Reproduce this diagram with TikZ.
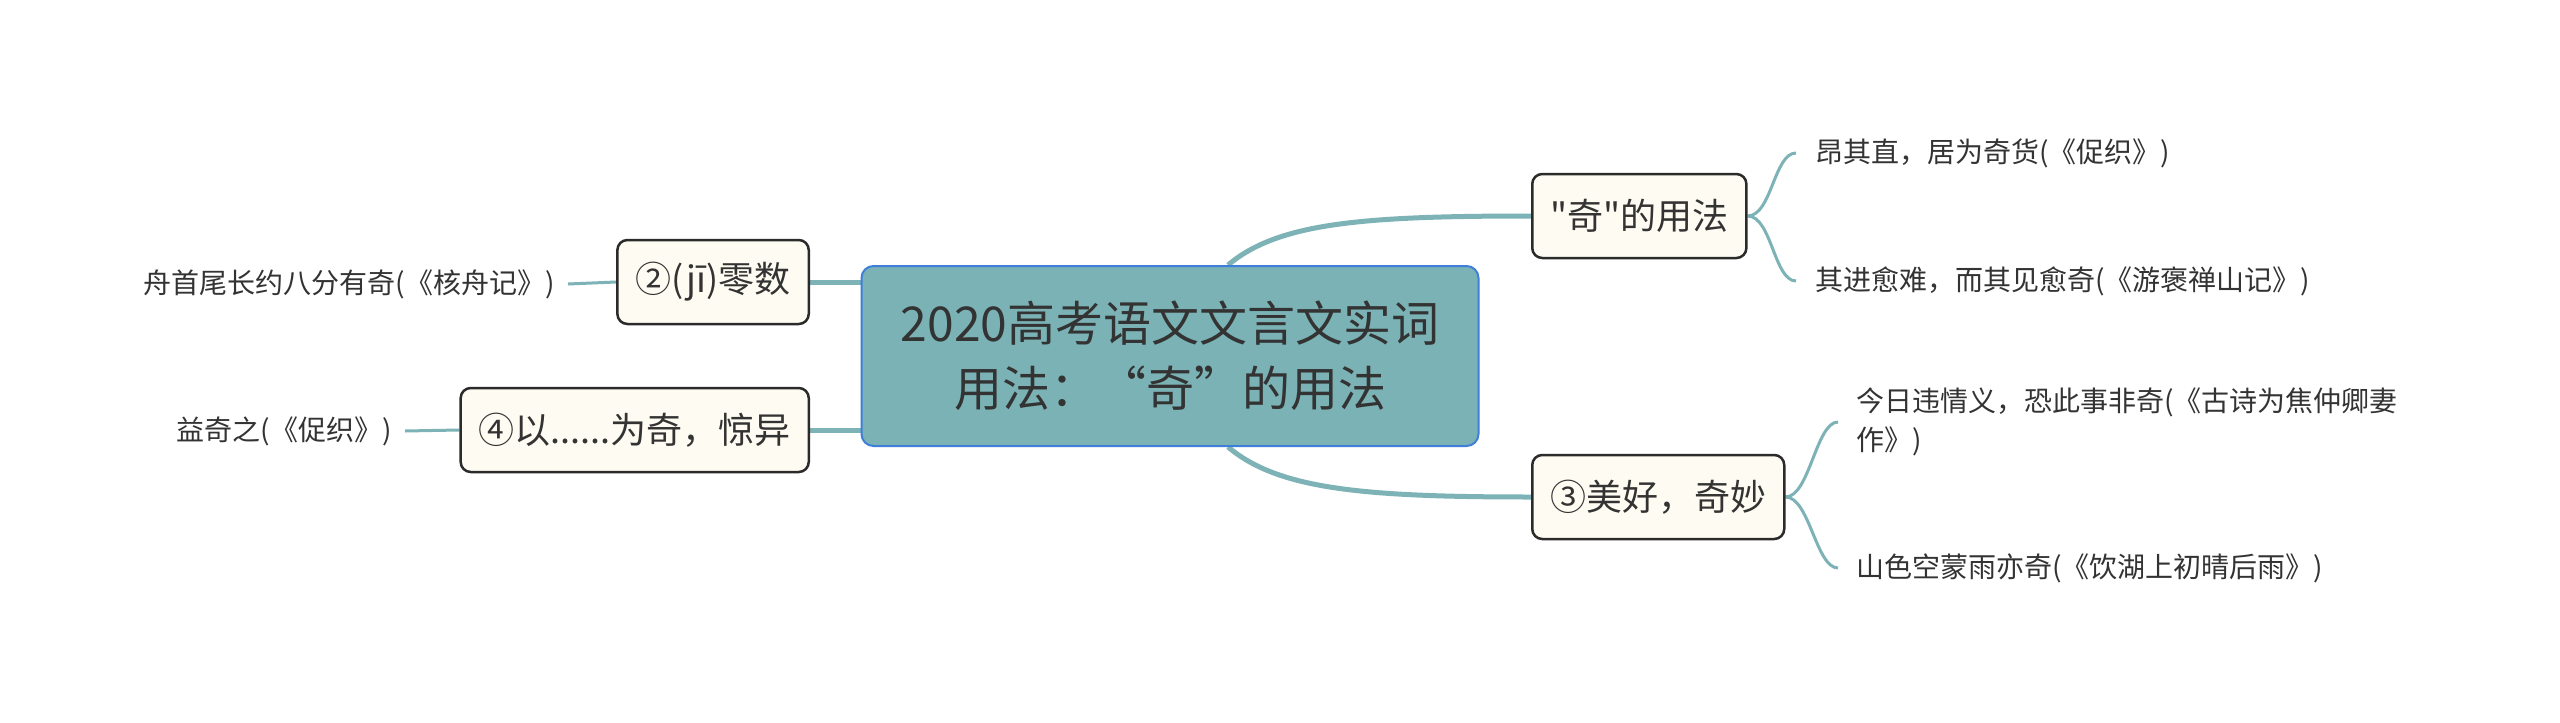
\documentclass[tikz,border=0pt]{standalone}
\usepackage{fontspec}
\setmainfont{Noto Sans CJK SC}[Ligatures=TeXOff]
\usetikzlibrary{backgrounds}
\definecolor{tealline}{HTML}{7DB3B6}
\definecolor{tealfill}{HTML}{7AB2B5}
\definecolor{cbord}{HTML}{3F7FD9}
\definecolor{cream}{HTML}{FEFCF2}
\definecolor{subbord}{HTML}{2B2B2B}
\definecolor{txt}{HTML}{333333}
\begin{document}
\begin{tikzpicture}[x=1pt,y=-1pt,
  central/.style={draw=cbord, line width=2pt, fill=tealfill, rounded corners=12pt,
    minimum width=617pt, minimum height=180pt, align=center, text=txt,
    font=\fontsize{48}{65}\selectfont, inner sep=0pt},
  sub/.style={draw=subbord, line width=2.5pt, fill=cream, rounded corners=10pt,
    minimum height=84pt, inner xsep=18pt, text=txt, font=\fontsize{36}{40}\selectfont},
  leaf/.style={inner sep=0pt, text=txt, font=\fontsize{28}{39}\selectfont, align=left},
  mainlink/.style={draw=tealline, line width=5pt},
  leaflink/.style={draw=tealline, line width=3pt}]
\useasboundingbox (0,0) rectangle (2560,723);

\node[central] (c) at (1170,356) {2020高考语文文言文实词\\用法：“奇”的用法};
\node[sub, anchor=west] (a) at (1531,216) {"奇"的用法};
\node[sub, anchor=west] (b) at (1531,497) {③美好，奇妙};
\node[sub, anchor=east] (d) at (810,282) {②(jī)零数};
\node[sub, anchor=east] (e) at (810,430) {④以......为奇，惊异};

\node[leaf, anchor=west] (a1) at (1815,153) {昂其直，居为奇货(《促织》)};
\node[leaf, anchor=west] (a2) at (1815,281) {其进愈难，而其见愈奇(《游褒禅山记》)};
\node[leaf, anchor=west] (b1) at (1856,422) {今日违情义，恐此事非奇(《古诗为焦仲卿妻\\作》)};
\node[leaf, anchor=west] (b2) at (1856,568) {山色空蒙雨亦奇(《饮湖上初晴后雨》)};
\node[leaf, anchor=east] (d1) at (555,284) {舟首尾长约八分有奇(《核舟记》)};
\node[leaf, anchor=east] (e1) at (392,431) {益奇之(《促织》)};

\begin{pgfonlayer}{background}
\fill[white] (0,0) rectangle (2560,723);
\draw[mainlink] ([xshift=58pt]c.north) .. controls +(50,-42) and +(-170,0) .. (a.west);
\draw[mainlink] ([xshift=58pt]c.south) .. controls +(50,42) and +(-170,0) .. (b.west);
\draw[mainlink] (d.east) -- (d.east -| c.west);
\draw[mainlink] (e.east) -- (e.east -| c.west);

\draw[leaflink] (a.east) .. controls +(24,0) and +(-22,0) .. ([xshift=-19pt]a1.west);
\draw[leaflink] (a.east) .. controls +(24,0) and +(-22,0) .. ([xshift=-19pt]a2.west);
\draw[leaflink] (b.east) .. controls +(24,0) and +(-22,0) .. ([xshift=-18pt]b1.west);
\draw[leaflink] (b.east) .. controls +(24,0) and +(-22,0) .. ([xshift=-18pt]b2.west);
\draw[leaflink] (d.west) -- ([xshift=13pt]d1.east);
\draw[leaflink] (e.west) -- ([xshift=13pt]e1.east);
\end{pgfonlayer}
\end{tikzpicture}
\end{document}
